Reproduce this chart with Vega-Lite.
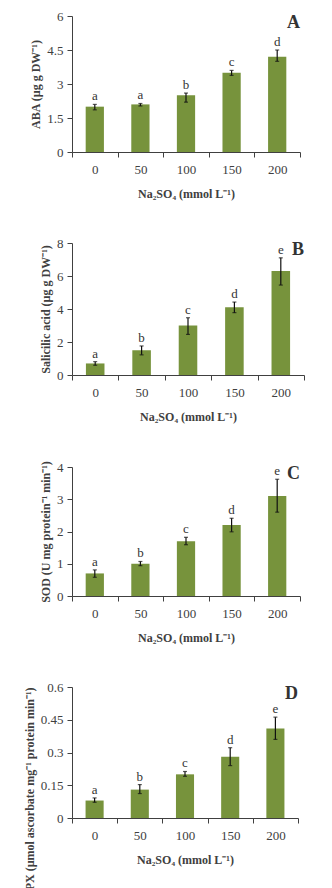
{
  "$schema": "https://vega.github.io/schema/vega-lite/v6.json",
  "padding": {"left": 23, "top": 10, "right": 0, "bottom": 0},
  "background": "white",
  "config": {
    "font": "Liberation Serif",
    "view": {"stroke": null},
    "axis": {
      "labelFont": "Liberation Serif", "labelFontSize": 13, "labelColor": "#404040",
      "titleFont": "Liberation Serif", "titleFontWeight": "bold", "titleFontSize": 12, "titleColor": "#404040",
      "domainColor": "#404040", "tickColor": "#404040", "grid": false, "tickSize": 5
    },
    "axisX": {"labelAngle": 0, "tickBand": "extent", "labelPadding": 6, "titlePadding": 12},
    "axisY": {"labelPadding": 4, "labelOverlap": false},
    "title": {"font": "Liberation Serif", "fontSize": 18, "fontWeight": "bold", "color": "#333333", "anchor": "end", "frame": "group", "baseline": "top", "offset": -22},
    "concat": {"spacing": 38}
  },
  "datasets": {
    "aba": [
      {"dose": "0", "value": 2.0, "lo": 1.86, "hi": 2.1, "letter": "a"},
      {"dose": "50", "value": 2.1, "lo": 2.03, "hi": 2.14, "letter": "a"},
      {"dose": "100", "value": 2.5, "lo": 2.2, "hi": 2.6, "letter": "b"},
      {"dose": "150", "value": 3.5, "lo": 3.38, "hi": 3.6, "letter": "c"},
      {"dose": "200", "value": 4.2, "lo": 4.0, "hi": 4.5, "letter": "d"}
    ],
    "sa": [
      {"dose": "0", "value": 0.7, "lo": 0.59, "hi": 0.81, "letter": "a"},
      {"dose": "50", "value": 1.5, "lo": 1.22, "hi": 1.76, "letter": "b"},
      {"dose": "100", "value": 3.0, "lo": 2.46, "hi": 3.47, "letter": "c"},
      {"dose": "150", "value": 4.1, "lo": 3.78, "hi": 4.42, "letter": "d"},
      {"dose": "200", "value": 6.3, "lo": 5.45, "hi": 7.1, "letter": "e"}
    ],
    "sod": [
      {"dose": "0", "value": 0.7, "lo": 0.58, "hi": 0.81, "letter": "a"},
      {"dose": "50", "value": 1.0, "lo": 0.94, "hi": 1.07, "letter": "b"},
      {"dose": "100", "value": 1.7, "lo": 1.59, "hi": 1.82, "letter": "c"},
      {"dose": "150", "value": 2.2, "lo": 1.99, "hi": 2.41, "letter": "d"},
      {"dose": "200", "value": 3.1, "lo": 2.6, "hi": 3.62, "letter": "e"}
    ],
    "apx": [
      {"dose": "0", "value": 0.08, "lo": 0.072, "hi": 0.092, "letter": "a"},
      {"dose": "50", "value": 0.13, "lo": 0.112, "hi": 0.153, "letter": "b"},
      {"dose": "100", "value": 0.2, "lo": 0.191, "hi": 0.213, "letter": "c"},
      {"dose": "150", "value": 0.28, "lo": 0.24, "hi": 0.322, "letter": "d"},
      {"dose": "200", "value": 0.41, "lo": 0.36, "hi": 0.462, "letter": "e"}
    ]
  },
  "vconcat": [
    {
      "data": {"name": "aba"},
      "width": 228, "height": 136,
      "title": {"text": "A"},
      "encoding": {"x": {"field": "dose", "type": "ordinal", "sort": null, "scale": {"paddingInner": 0, "paddingOuter": 0}, "title": "Na₂SO₄ (mmol L⁻¹)"}},
      "layer": [
        {"mark": {"type": "bar", "color": "#77933c", "width": {"band": 0.4}}, "encoding": {"y": {"field": "value", "type": "quantitative", "title": "ABA (µg g DW⁻¹)", "scale": {"domain": [0, 6]}, "axis": {"values": [0, 1.5, 3, 4.5, 6], "format": ".1~f"}}}},
        {"mark": {"type": "rule", "color": "#111111", "strokeWidth": 1.2}, "encoding": {"y": {"field": "lo", "type": "quantitative", "title": "ABA (µg g DW⁻¹)", "axis": {"values": [0, 1.5, 3, 4.5, 6], "format": ".1~f"}}, "y2": {"field": "hi"}}},
        {"mark": {"type": "tick", "color": "#111111", "size": 4, "thickness": 1.2}, "encoding": {"y": {"field": "hi", "type": "quantitative", "title": "ABA (µg g DW⁻¹)", "axis": {"values": [0, 1.5, 3, 4.5, 6], "format": ".1~f"}}}},
        {"mark": {"type": "tick", "color": "#111111", "size": 4, "thickness": 1.2}, "encoding": {"y": {"field": "lo", "type": "quantitative", "title": "ABA (µg g DW⁻¹)", "axis": {"values": [0, 1.5, 3, 4.5, 6], "format": ".1~f"}}}},
        {"mark": {"type": "text", "baseline": "bottom", "dy": -1, "fontSize": 13, "color": "#333333", "font": "Liberation Serif"}, "encoding": {"y": {"field": "hi", "type": "quantitative", "title": "ABA (µg g DW⁻¹)", "axis": {"values": [0, 1.5, 3, 4.5, 6], "format": ".1~f"}}, "text": {"field": "letter"}}}
      ]
    },
    {
      "data": {"name": "sa"},
      "width": 232, "height": 132,
      "title": {"text": "B"},
      "encoding": {"x": {"field": "dose", "type": "ordinal", "sort": null, "scale": {"paddingInner": 0, "paddingOuter": 0}, "title": "Na₂SO₄ (mmol L⁻¹)"}},
      "layer": [
        {"mark": {"type": "bar", "color": "#77933c", "width": {"band": 0.4}}, "encoding": {"y": {"field": "value", "type": "quantitative", "title": "Salicilic acid (µg g DW⁻¹)", "scale": {"domain": [0, 8]}, "axis": {"values": [0, 2, 4, 6, 8], "format": "~f"}}}},
        {"mark": {"type": "rule", "color": "#111111", "strokeWidth": 1.2}, "encoding": {"y": {"field": "lo", "type": "quantitative", "title": "Salicilic acid (µg g DW⁻¹)", "axis": {"values": [0, 2, 4, 6, 8], "format": "~f"}}, "y2": {"field": "hi"}}},
        {"mark": {"type": "tick", "color": "#111111", "size": 4, "thickness": 1.2}, "encoding": {"y": {"field": "hi", "type": "quantitative", "title": "Salicilic acid (µg g DW⁻¹)", "axis": {"values": [0, 2, 4, 6, 8], "format": "~f"}}}},
        {"mark": {"type": "tick", "color": "#111111", "size": 4, "thickness": 1.2}, "encoding": {"y": {"field": "lo", "type": "quantitative", "title": "Salicilic acid (µg g DW⁻¹)", "axis": {"values": [0, 2, 4, 6, 8], "format": "~f"}}}},
        {"mark": {"type": "text", "baseline": "bottom", "dy": -1, "fontSize": 13, "color": "#333333", "font": "Liberation Serif"}, "encoding": {"y": {"field": "hi", "type": "quantitative", "title": "Salicilic acid (µg g DW⁻¹)", "axis": {"values": [0, 2, 4, 6, 8], "format": "~f"}}, "text": {"field": "letter"}}}
      ]
    },
    {
      "data": {"name": "sod"},
      "width": 228, "height": 129,
      "title": {"text": "C"},
      "encoding": {"x": {"field": "dose", "type": "ordinal", "sort": null, "scale": {"paddingInner": 0, "paddingOuter": 0}, "title": "Na₂SO₄ (mmol L⁻¹)"}},
      "layer": [
        {"mark": {"type": "bar", "color": "#77933c", "width": {"band": 0.4}}, "encoding": {"y": {"field": "value", "type": "quantitative", "title": "SOD (U mg protein⁻¹ min⁻¹)", "scale": {"domain": [0, 4]}, "axis": {"values": [0, 1, 2, 3, 4], "format": "~f"}}}},
        {"mark": {"type": "rule", "color": "#111111", "strokeWidth": 1.2}, "encoding": {"y": {"field": "lo", "type": "quantitative", "title": "SOD (U mg protein⁻¹ min⁻¹)", "axis": {"values": [0, 1, 2, 3, 4], "format": "~f"}}, "y2": {"field": "hi"}}},
        {"mark": {"type": "tick", "color": "#111111", "size": 4, "thickness": 1.2}, "encoding": {"y": {"field": "hi", "type": "quantitative", "title": "SOD (U mg protein⁻¹ min⁻¹)", "axis": {"values": [0, 1, 2, 3, 4], "format": "~f"}}}},
        {"mark": {"type": "tick", "color": "#111111", "size": 4, "thickness": 1.2}, "encoding": {"y": {"field": "lo", "type": "quantitative", "title": "SOD (U mg protein⁻¹ min⁻¹)", "axis": {"values": [0, 1, 2, 3, 4], "format": "~f"}}}},
        {"mark": {"type": "text", "baseline": "bottom", "dy": -1, "fontSize": 13, "color": "#333333", "font": "Liberation Serif"}, "encoding": {"y": {"field": "hi", "type": "quantitative", "title": "SOD (U mg protein⁻¹ min⁻¹)", "axis": {"values": [0, 1, 2, 3, 4], "format": "~f"}}, "text": {"field": "letter"}}}
      ]
    },
    {
      "data": {"name": "apx"},
      "width": 226, "height": 131,
      "title": {"text": "D"},
      "encoding": {"x": {"field": "dose", "type": "ordinal", "sort": null, "scale": {"paddingInner": 0, "paddingOuter": 0}, "title": "Na₂SO₄ (mmol L⁻¹)"}},
      "layer": [
        {"mark": {"type": "bar", "color": "#77933c", "width": {"band": 0.4}}, "encoding": {"y": {"field": "value", "type": "quantitative", "title": "APX (µmol ascorbate mg⁻¹ protein min⁻¹)", "scale": {"domain": [0, 0.6]}, "axis": {"values": [0, 0.15, 0.3, 0.45, 0.6], "format": ".2~f", "titleAnchor": "end"}}}},
        {"mark": {"type": "rule", "color": "#111111", "strokeWidth": 1.2}, "encoding": {"y": {"field": "lo", "type": "quantitative", "title": "APX (µmol ascorbate mg⁻¹ protein min⁻¹)", "axis": {"values": [0, 0.15, 0.3, 0.45, 0.6], "format": ".2~f", "titleAnchor": "end"}}, "y2": {"field": "hi"}}},
        {"mark": {"type": "tick", "color": "#111111", "size": 4, "thickness": 1.2}, "encoding": {"y": {"field": "hi", "type": "quantitative", "title": "APX (µmol ascorbate mg⁻¹ protein min⁻¹)", "axis": {"values": [0, 0.15, 0.3, 0.45, 0.6], "format": ".2~f", "titleAnchor": "end"}}}},
        {"mark": {"type": "tick", "color": "#111111", "size": 4, "thickness": 1.2}, "encoding": {"y": {"field": "lo", "type": "quantitative", "title": "APX (µmol ascorbate mg⁻¹ protein min⁻¹)", "axis": {"values": [0, 0.15, 0.3, 0.45, 0.6], "format": ".2~f", "titleAnchor": "end"}}}},
        {"mark": {"type": "text", "baseline": "bottom", "dy": -1, "fontSize": 13, "color": "#333333", "font": "Liberation Serif"}, "encoding": {"y": {"field": "hi", "type": "quantitative", "title": "APX (µmol ascorbate mg⁻¹ protein min⁻¹)", "axis": {"values": [0, 0.15, 0.3, 0.45, 0.6], "format": ".2~f", "titleAnchor": "end"}}, "text": {"field": "letter"}}}
      ]
    }
  ]
}
